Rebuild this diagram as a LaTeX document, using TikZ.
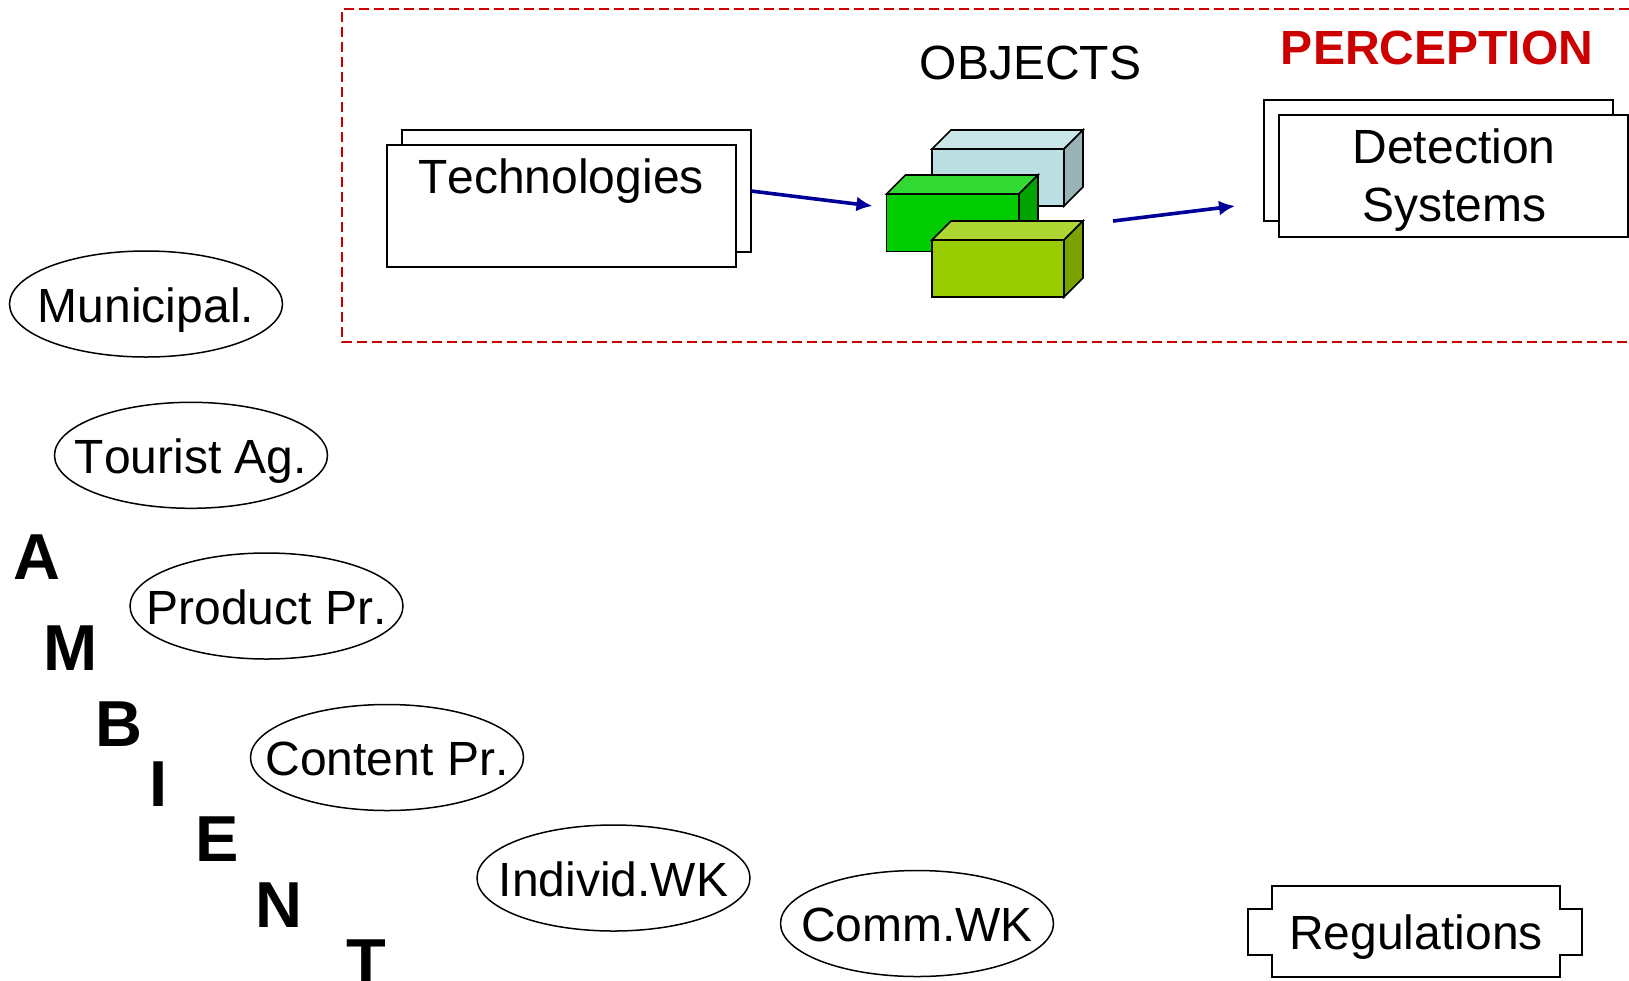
\documentclass[tikz,border=0pt]{standalone}
\usepackage{fontspec}
\setmainfont[Kerning=Off]{Liberation Sans}
\usetikzlibrary{shapes.geometric,arrows.meta}
\definecolor{redbox}{HTML}{CC0000}
\definecolor{navy}{HTML}{000099}
\definecolor{paleF}{HTML}{BBDFE2}
\definecolor{paleT}{HTML}{C9E6E8}
\definecolor{paleS}{HTML}{98B2B5}
\definecolor{greenF}{HTML}{00CC00}
\definecolor{greenT}{HTML}{33D933}
\definecolor{greenS}{HTML}{00A300}
\definecolor{oliveF}{HTML}{99CC00}
\definecolor{oliveT}{HTML}{ADD633}
\definecolor{oliveS}{HTML}{7AA300}
\tikzset{
  lab/.style={font=\fontsize{48}{56}\selectfont,inner sep=0pt,anchor=base,align=center},
  big/.style={font=\fontsize{65}{70}\selectfont\bfseries,inner sep=0pt,anchor=base},
  oval/.style={draw=black,line width=1.5pt,ellipse,minimum width=273pt,minimum height=106pt,inner sep=-30pt,text height=36pt,text depth=0pt,font=\fontsize{48}{56}\selectfont},
  card/.style={draw=black,line width=1.8pt,fill=white},
  flow/.style={draw=navy,line width=3.6pt,-{Latex[length=16pt,width=15pt]}},
  boxedge/.style={draw=black,line width=1.6pt,line join=miter}
}
\newcommand{\blockthree}[7]{%
  \filldraw[boxedge,fill=#5] (#1,#2) rectangle (#3,#4);
  \filldraw[boxedge,fill=#6] (#1,#2) -- (#1+19,#2-19) -- (#3+19,#2-19) -- (#3,#2) -- cycle;
  \filldraw[boxedge,fill=#7] (#3,#2) -- (#3+19,#2-19) -- (#3+19,#4-19) -- (#3,#4) -- cycle;
}
\begin{document}
\begin{tikzpicture}[x=1pt,y=-1pt]
\useasboundingbox (0,0) rectangle (1629,980.5);
% perception frame
\draw[redbox,line width=1.6pt,dash pattern=on 10pt off 5pt] (1629,9) -- (342,9) -- (342,342) -- (1629,342);
\node[lab] (objects) at (1030.5,79) {OBJECTS};
\node[lab,font=\fontsize{48}{56}\selectfont\bfseries,text=redbox] (perception) at (1437,64) {PERCEPTION};
% technologies
\draw[card] (402,130) rectangle (751,252);
\draw[card] (387,145) rectangle (736,267);
\node[lab] (tech) at (561,193.5) {Technologies};
\coordinate (techout) at (751,191);
\coordinate (objin) at (872.5,206);
% detection
\draw[card] (1264,100) rectangle (1613,221);
\draw[card] (1279,115) rectangle (1628,237);
\node[lab] (det1) at (1454,163) {Detection};
\node[lab] (det2) at (1454,221) {Systems};
\coordinate (objout) at (1113,221);
\coordinate (detin) at (1235,206);
% blocks
\blockthree{932}{149}{1064}{206}{paleF}{paleT}{paleS}
\blockthree{886.5}{194}{1019}{251.5}{greenF}{greenT}{greenS}
\blockthree{932}{240}{1064}{297}{oliveF}{oliveT}{oliveS}
% arrows
\draw[flow] (techout) -- (objin);
\draw[flow] (objout) -- (detin);
% ovals
\node[oval] (municipal) at (146,304) {Municipal.};
\node[oval] (tourist) at (191,455.3) {Tourist Ag.};
\node[oval] (product) at (266.5,606) {Product Pr.};
\node[oval] (content) at (387,757.5) {Content Pr.};
\node[oval] (individ) at (613.5,878) {Individ.WK};
\node[oval] (comm) at (917,923.5) {Comm.WK};
% AMBIENT
\node[big] (la) at (37,579) {A};
\node[big] (lm) at (71,670.7) {M};
\node[big] (lb) at (119,746) {B};
\node[big] (li) at (159,806.7) {I};
\node[big] (le) at (217.5,861.7) {E};
\node[big] (ln) at (279,927) {N};
\node[big] (lt) at (366,984) {T};
% regulations
\draw[boxedge,line width=1.5pt] (1272,886) -- (1560,886) -- (1560,909) -- (1582,909) -- (1582,955) -- (1560,955) -- (1560,977) -- (1272,977) -- (1272,955) -- (1248,955) -- (1248,909) -- (1272,909) -- cycle;
\node[lab] (regs) at (1416,949) {Regulations};
\end{tikzpicture}
\end{document}
